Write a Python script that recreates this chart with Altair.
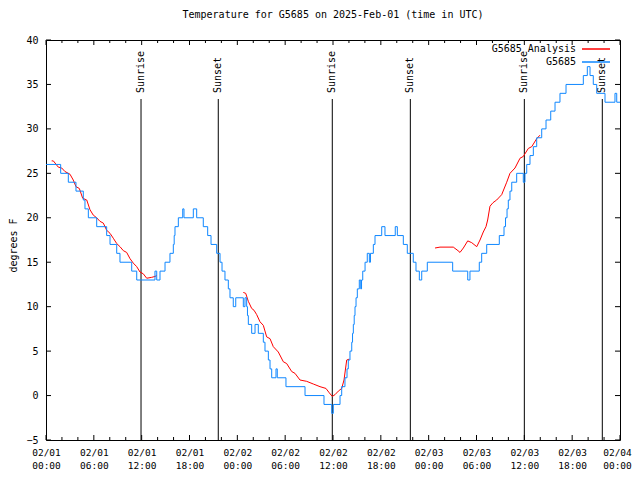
import altair as alt
import pandas as pd

# ---- data (hours since 2025-02-01 00:00 UTC, temperature in degrees F) ----
obs_hours = [0.00, 1.84, 2.80, 3.76, 4.68, 4.89, 5.31, 6.36, 7.61, 8.03, 8.87, 9.28,
             10.75, 11.38, 13.67, 13.89, 14.30, 14.93, 15.55, 15.97, 16.08, 16.18, 16.60,
             17.15, 17.31, 18.48, 18.90, 19.73, 20.28, 20.70, 21.41, 21.83, 22.08, 22.45,
             22.87, 23.08, 23.49, 23.80, 24.75, 24.96, 25.17, 25.27, 25.38, 25.80, 26.22,
             26.63, 27.26, 27.47, 27.89, 28.10, 28.31, 28.85, 29.01, 30.10, 32.49, 34.87,
             35.84, 36.04, 36.88, 37.09, 37.50, 37.76, 37.92, 38.13, 38.35, 38.45, 38.55,
             38.66, 38.76, 38.89, 39.05, 39.30, 39.48, 39.58, 39.73, 40.02, 40.30, 40.56,
             40.70, 41.06, 41.27, 42.11, 42.52, 43.81, 44.07, 44.82, 45.32, 46.07, 46.41,
             46.83, 47.13, 47.83, 51.01, 52.90, 53.18, 54.35, 54.65, 55.28, 56.86, 57.45,
             57.64, 57.83, 57.99, 58.20, 58.42, 59.04, 59.87, 60.08, 60.30, 60.71, 61.13,
             61.55, 62.18, 62.72, 63.31, 63.85, 64.47, 65.23, 67.40, 67.90, 68.24, 68.65,
             69.08, 70.12, 71.37, 71.59, 72.00]
obs_temps = [26, 25, 24, 23, 22, 21, 20, 19, 18, 17, 16, 15,
             14, 13, 14, 13, 14, 15, 16, 17, 18, 19, 20,
             21, 20, 21, 20, 19, 18, 17, 16, 15, 14, 13,
             12, 11, 10, 11, 10, 11, 10, 9, 8, 7, 8,
             7, 6, 5, 4, 3, 2, 3, 2, 1, 0, -1,
             -2, -1, 0, 1, 2, 3, 4, 5, 6, 7, 8,
             9, 10, 11, 12, 13, 12, 13, 14, 15, 16, 15,
             16, 17, 18, 19, 18, 19, 18, 17, 16, 15, 14,
             13, 14, 15, 14, 13, 14, 15, 16, 17, 18, 19,
             20, 21, 22, 23, 24, 25, 24, 25, 26, 27, 28,
             29, 30, 31, 32, 33, 34, 35, 36, 37, 36, 35,
             34, 33, 34, 33, 33]

ana1_hours = [0.71, 0.92, 1.54, 1.97, 2.38, 3.01, 3.42, 3.76, 4.18, 4.60, 5.11, 5.52,
              5.93, 6.36, 6.77, 7.19, 7.61, 8.03, 8.44, 8.87, 9.28, 9.70, 10.12, 10.54,
              10.95, 11.38, 11.79, 12.20, 12.63, 13.26, 13.67, 13.89]
ana1_temps = [26.4, 26.4, 25.7, 25.6, 25.2, 24.9, 24.25, 23.5, 23.3, 22.2, 22.0, 20.9,
              20.3, 20.0, 19.6, 19.4, 18.6, 18.25, 17.7, 17.1, 16.75, 16.3, 16.1, 15.4,
              14.9, 14.5, 13.9, 13.7, 13.2, 13.3, 13.4, 13.5]
ana2_hours = [24.75, 25.05, 25.38, 25.80, 26.09, 26.43, 26.84, 27.26, 27.68, 28.10, 28.51,
              29.14, 29.77, 30.19, 30.82, 31.23, 31.86, 32.70, 33.53, 34.37, 35.12, 35.54,
              35.91, 36.25, 36.67, 37.09, 37.38, 37.72, 38.04]
ana2_temps = [11.6, 11.5, 10.6, 9.8, 9.6, 9.1, 8.3, 7.9, 6.6, 6.4, 5.5,
              4.9, 3.8, 3.6, 2.7, 2.5, 1.75, 1.6, 1.3, 1.0, 0.8, 0.3,
              -0.1, 0.1, 0.5, 0.8, 1.75, 4.0, 4.1]
ana3_hours = [48.80, 49.42, 51.09, 51.68, 51.93, 52.35, 52.90, 53.40, 54.03, 54.44, 54.85,
              55.19, 55.40, 55.69, 56.07, 56.53, 57.16, 57.79, 58.20, 58.83, 59.46, 59.87,
              60.50, 60.93, 61.55, 61.97]
ana3_temps = [16.6, 16.7, 16.7, 16.3, 16.1, 16.6, 17.4, 17.2, 16.75, 17.5, 18.4,
              19.0, 19.75, 21.3, 21.7, 22.0, 22.6, 24.0, 25.0, 25.6, 26.7, 26.9,
              27.8, 28.0, 28.9, 29.3]

sun_hours = [11.92, 21.61, 35.91, 45.70, 60.00, 69.78]
sun_labels = ["Sunrise", "Sunset", "Sunrise", "Sunset", "Sunrise", "Sunset"]

x_tick_hours = list(range(0, 73, 2))
y_tick_values = list(range(-5, 41, 5))
x_label_hours = list(range(0, 73, 6))

TITLE = "Temperature for G5685 on 2025-Feb-01 (time in UTC)"
RED = "#ff0000"
BLUE = "#0f87ff"
FONT = "DejaVu Sans Mono"

base = pd.Timestamp("2025-02-01 00:00:00")


def ts(h):
    return (base + pd.to_timedelta(h, unit="h")).strftime("%Y-%m-%dT%H:%M:%SZ")


obs_df = pd.DataFrame({"t": [ts(h) for h in obs_hours], "v": obs_temps})
ana_rows = []
for seg, (hs, vs) in enumerate([(ana1_hours, ana1_temps), (ana2_hours, ana2_temps),
                                 (ana3_hours, ana3_temps)]):
    for h, v in zip(hs, vs):
        ana_rows.append({"t": ts(h), "v": v, "seg": seg})
ana_df = pd.DataFrame(ana_rows)
sun_df = pd.DataFrame({"t": [ts(h) for h in sun_hours], "label": sun_labels})
xt_df = pd.DataFrame({"t": [ts(h) for h in x_tick_hours],
                      "major": [h % 6 == 0 for h in x_tick_hours]})
yt_df = pd.DataFrame({"v": y_tick_values})


def dt(h):
    d = base + pd.to_timedelta(h, unit="h")
    return alt.DateTime(year=d.year, month=d.month, date=d.day, hours=d.hour,
                        minutes=d.minute, utc=True)


xscale = alt.Scale(type="utc", domain=[dt(0), dt(72)], nice=False)
yscale = alt.Scale(domain=[-5, 40], nice=False, zero=False)

xaxis = alt.Axis(values=[dt(h) for h in x_label_hours], ticks=False, domain=False,
                 grid=False, title=None, labelFont=FONT, labelFontSize=9.5,
                 labelColor="black", labelPadding=7, labelLineHeight=13,
                 labelFlush=False, labelOverlap=False, labelBound=False,
                 labelOffset={"condition": {"test": "datum.value >= 1738620000000",
                                            "value": -3}, "value": 0},
                 labelExpr="[utcFormat(datum.value, '%m/%d'), utcFormat(datum.value, '%H:%M')]")
yaxis = alt.Axis(values=y_tick_values, ticks=False, domain=False, grid=False,
                 title="degrees F", titleFont=FONT, titleFontSize=10,
                 titleFontWeight="normal", titleColor="black", titleX=-33, titleY=205,
                 titleAngle=270, titleAlign="center", titleBaseline="middle",
                 labelFont=FONT, labelFontSize=10, labelColor="black", labelPadding=8)

X = alt.X("t:T", scale=xscale, axis=xaxis)
Y = alt.Y("v:Q", scale=yscale, axis=yaxis)

sun_rules = alt.Chart(sun_df).mark_rule(color="black", strokeWidth=1).encode(
    x=X, y=alt.value(59), y2=alt.value(400))
sun_text = alt.Chart(sun_df).mark_text(
    angle=270, align="left", baseline="middle", font=FONT, fontSize=10, color="black"
).encode(x=X, y=alt.value(53), text="label:N")

xt_major = xt_df[xt_df["major"]]
xt_minor = xt_df[~xt_df["major"]]
tick_layers = []
for d, ln in [(xt_major, 5), (xt_minor, 3)]:
    tick_layers.append(alt.Chart(d).mark_rule(color="black").encode(
        x=X, y=alt.value(400), y2=alt.value(400 - ln)))
    tick_layers.append(alt.Chart(d).mark_rule(color="black").encode(
        x=X, y=alt.value(0), y2=alt.value(ln)))
tick_layers.append(alt.Chart(yt_df).mark_rule(color="black").encode(
    y=Y, x=alt.value(0), x2=alt.value(5)))
tick_layers.append(alt.Chart(yt_df).mark_rule(color="black").encode(
    y=Y, x=alt.value(574), x2=alt.value(569)))

red_line = alt.Chart(ana_df).mark_line(color=RED, strokeWidth=1).encode(
    x=X, y=Y, detail="seg:N")
blue_line = alt.Chart(obs_df).mark_line(color=BLUE, strokeWidth=1,
                                        interpolate="step-after").encode(x=X, y=Y)

leg_df = pd.DataFrame({"name": ["G5685 Analysis", "G5685"]})
leg_text1 = alt.Chart(leg_df).transform_filter("datum.name == 'G5685 Analysis'").mark_text(
    align="right", baseline="middle", font=FONT, fontSize=10, color="black"
).encode(x=alt.value(530), y=alt.value(9), text="name:N")
leg_text2 = alt.Chart(leg_df).transform_filter("datum.name == 'G5685'").mark_text(
    align="right", baseline="middle", font=FONT, fontSize=10, color="black"
).encode(x=alt.value(530), y=alt.value(22), text="name:N")
leg_rule1 = alt.Chart(leg_df).mark_rule(color=RED).encode(
    x=alt.value(536), x2=alt.value(564), y=alt.value(9))
leg_rule2 = alt.Chart(leg_df).mark_rule(color=BLUE).encode(
    x=alt.value(536), x2=alt.value(564), y=alt.value(22))

chart = alt.layer(
    sun_rules, sun_text, *tick_layers, red_line, blue_line,
    leg_text1, leg_text2, leg_rule1, leg_rule2
).properties(
    width=574, height=400,
    title=alt.TitleParams(TITLE, font=FONT, fontSize=10, fontWeight="normal",
                          color="black", anchor="middle", offset=15),
    autosize=alt.AutoSizeParams(type="none"),
    padding={"left": 38, "top": 32, "right": 12, "bottom": 30},
    background="white",
).configure_view(stroke="black", strokeWidth=1)

chart.save("out.html", embed_options={"renderer": "svg", "actions": False})
